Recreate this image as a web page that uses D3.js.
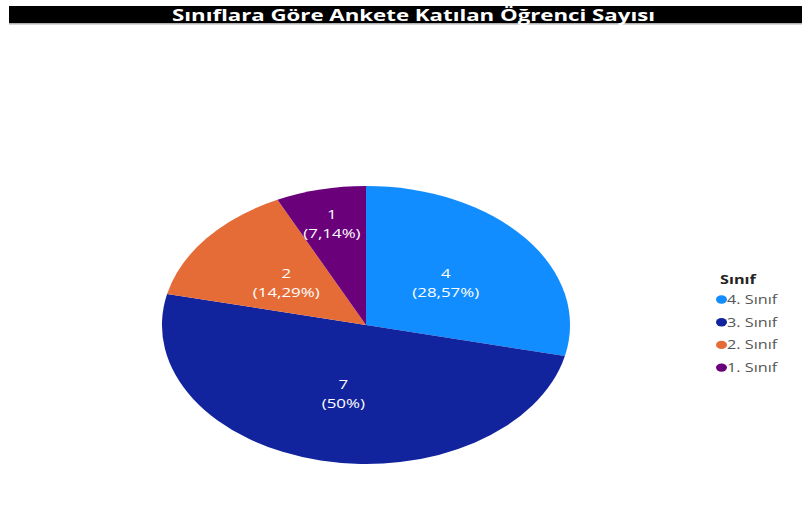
<!DOCTYPE html>
<html>
<head>
<meta charset="utf-8">
<script src="https://cdn.jsdelivr.net/npm/d3@7"></script>
<style>
  body { margin: 0; background: #fff; }
  svg { display: block; font-family: 'Open Sans', 'Noto Sans', sans-serif; }
</style>
</head>
<body>
<div id="chart"></div>
<script>
const title = 'Sınıflara Göre Ankete Katılan Öğrenci Sayısı'
const legendTitle = 'Sınıf'
const categories = ['4. Sınıf', '3. Sınıf', '2. Sınıf', '1. Sınıf']
const values = [4, 7, 2, 1]
const colors = ['#118DFF', '#12239E', '#E66C37', '#6B007B']

const width = 802
const height = 523
const stretch = 1.3 // the whole picture is wider than tall
const cx = 366
const cy = 325
const rx = 204
const ry = 139

const svg = d3.select('#chart').append('svg').attr('width', width).attr('height', height)

// title band
svg.append('rect').attr('x', 9).attr('y', 6).attr('width', width - 9).attr('height', 17).attr('fill', '#000')
svg.append('rect').attr('x', 9).attr('y', 23).attr('width', width - 9).attr('height', 1.5).attr('fill', '#b0b0b0')
svg.append('text')
  .attr('x', 172).attr('y', 20.5)
  .attr('textLength', 483).attr('lengthAdjust', 'spacingAndGlyphs')
  .attr('fill', '#fff').attr('font-size', 16).attr('font-weight', 'bold')
  .text(title)

const total = d3.sum(values)
const color = d3.scaleOrdinal().domain(categories).range(colors)
const pie = d3.pie().sort(null).value(d => d.value)
const arcs = pie(categories.map((c, i) => ({ name: c, value: values[i] })))
const arc = d3.arc().innerRadius(0).outerRadius(1)

const g = svg.append('g').attr('transform', `translate(${cx},${cy}) scale(${rx},${ry})`)
g.selectAll('path')
  .data(arcs)
  .enter()
  .append('path')
  .attr('d', arc)
  .attr('fill', d => color(d.data.name))

const fmt = v => {
  const p = Math.round(v / total * 10000) / 100
  return '(' + String(p).replace('.', ',') + '%)'
}

const labels = svg.append('g')
arcs.forEach(d => {
  const mid = (d.startAngle + d.endAngle) / 2
  const f = d.data.value / total < 0.1 ? 0.75 : 0.5
  const x = cx + Math.sin(mid) * rx * f
  const y = cy - Math.cos(mid) * ry * f
  const t = labels.append('text')
    .attr('transform', `translate(${x},${y}) scale(${stretch},1)`)
    .attr('text-anchor', 'middle')
    .attr('fill', '#fff')
    .attr('font-size', 13)
  t.append('tspan').attr('x', 0).attr('y', -4).text(d.data.value)
  t.append('tspan').attr('x', 0).attr('y', 15).text(fmt(d.data.value))
})

// legend
const legend = svg.append('g').attr('transform', 'translate(716,284)')
legend.append('text')
  .attr('transform', `translate(4,0) scale(${stretch},1)`)
  .attr('font-size', 12.5).attr('font-weight', 'bold').attr('fill', '#252423')
  .text(legendTitle)
const item = legend.selectAll('g.item')
  .data(categories)
  .enter()
  .append('g')
  .attr('class', 'item')
  .attr('transform', (d, i) => `translate(0,${15.5 + i * 22.7})`)
item.append('ellipse').attr('cx', 5.5).attr('cy', 0).attr('rx', 5.5).attr('ry', 4.2).attr('fill', d => color(d))
item.append('text')
  .attr('transform', `translate(11,4.5) scale(${stretch},1)`)
  .attr('font-size', 12.5).attr('fill', '#555')
  .text(d => d)
</script>
</body>
</html>
